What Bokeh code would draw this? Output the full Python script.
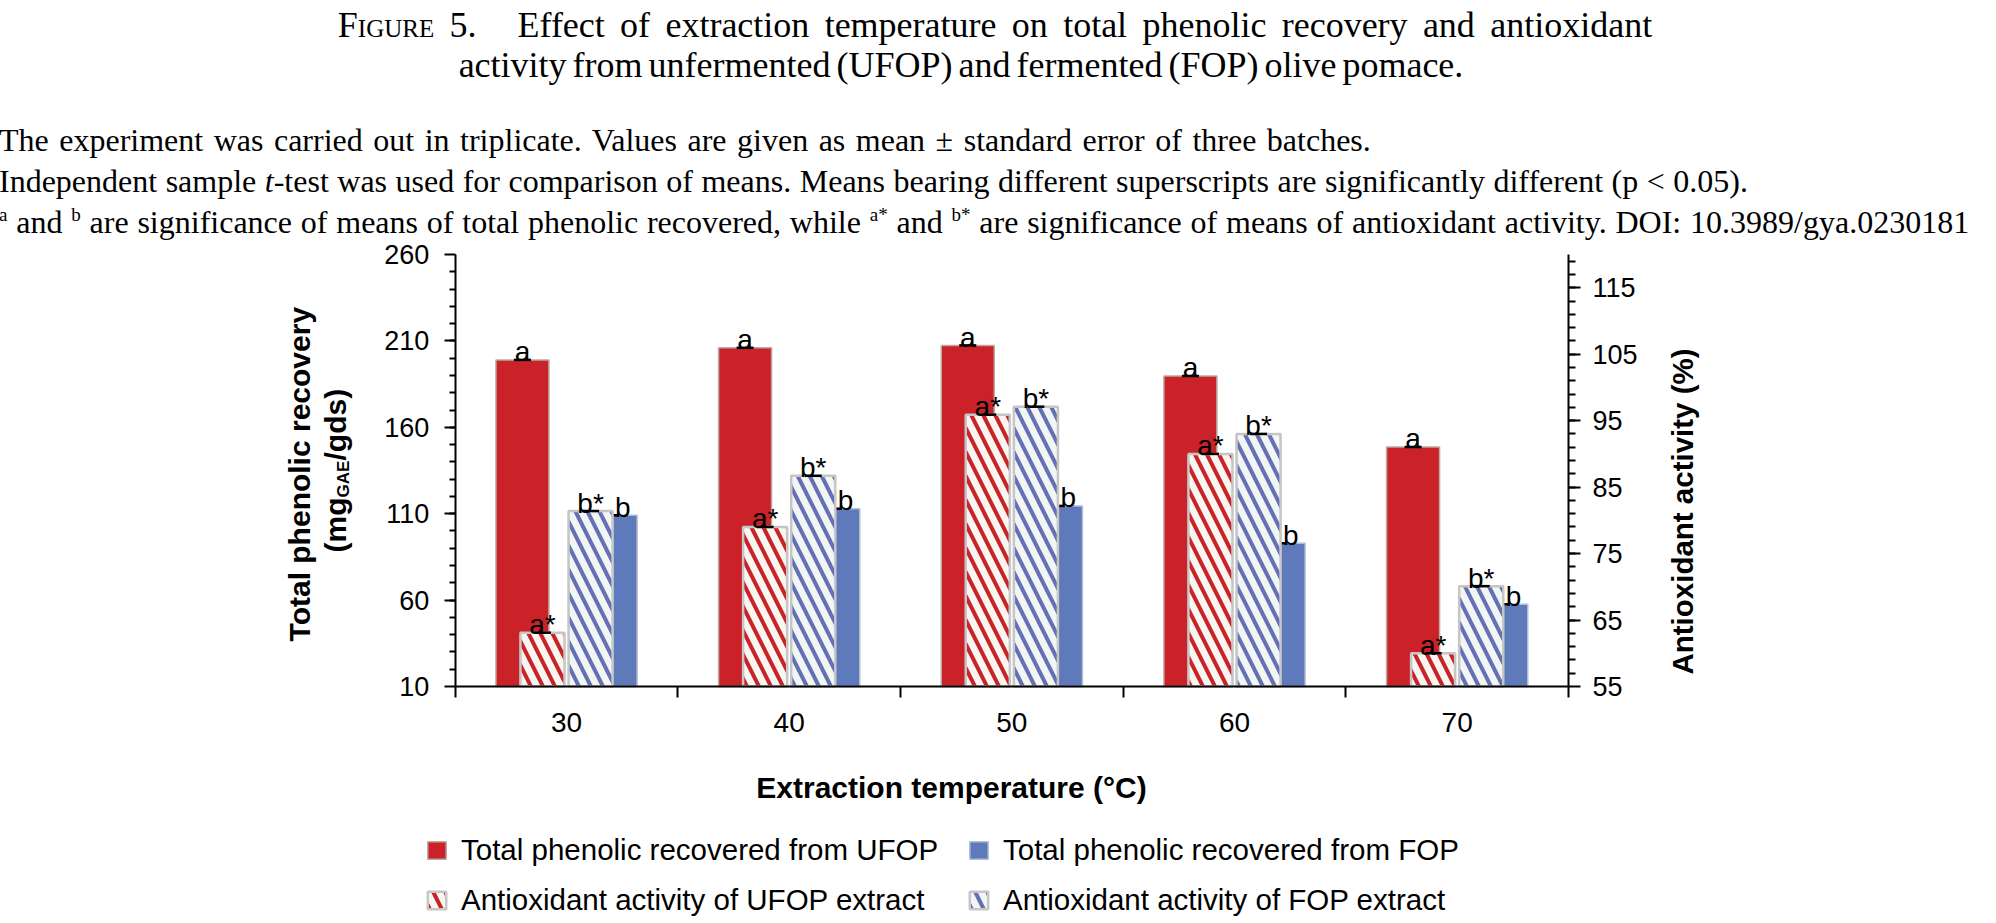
import numpy as np
from bokeh.plotting import figure
from bokeh.models import (Range1d, LinearAxis, FixedTicker, Label, Legend,
                          LegendItem, Div)
from bokeh.layouts import column
from bokeh.embed import file_html
from bokeh.resources import INLINE
from bokeh.core.properties import value

# ---------------- data ----------------
temps = ["30", "40", "50", "60", "70"]
tpc_ufop = [199.0, 206.0, 207.4, 189.7, 148.6]   # total phenolic, UFOP (left axis)
tpc_fop = [109.1, 112.9, 114.5, 92.9, 57.6]      # total phenolic, FOP (left axis)
aa_ufop = [63.1, 79.0, 95.9, 90.0, 60.0]         # antioxidant activity UFOP (%)
aa_fop = [81.4, 86.7, 97.1, 93.0, 70.1]          # antioxidant activity FOP (%)
sig_tpc_ufop = ["a", "a", "a", "a", "a"]
sig_tpc_fop = ["b", "b", "b", "b", "b"]
sig_aa_ufop = ["a*", "a*", "a*", "a*", "a*"]
sig_aa_fop = ["b*", "b*", "b*", "b*", "b*"]
left_major = [10, 60, 110, 160, 210, 260]
left_minor = list(range(20, 260, 10))
right_major = [55, 65, 75, 85, 95, 105, 115]
right_minor = list(range(57, 120, 2))

legend_labels = ["Total phenolic recovered from UFOP",
                 "Total phenolic recovered from FOP",
                 "Antioxidant activity of UFOP extract",
                 "Antioxidant activity of FOP extract"]

title1 = "Effect of extraction temperature on total phenolic recovery and antioxidant"
title2 = "activity from unfermented (UFOP) and fermented (FOP) olive pomace."
note1 = "The experiment was carried out in triplicate. Values are given as mean \u00b1 standard error of three batches."

RED = "#CB2229"
BLUE = "#5F7ABA"
HBLUE = "#6470B4"
SANS = "Liberation Sans"
SERIF = "'Liberation Serif','Times New Roman',serif"

# ---------------- header (HTML text) ----------------
sup = '<span style="font-size:19px;line-height:0;vertical-align:12px;">{}</span>'
note3 = (sup.format("a") + " and " + sup.format("b") +
         " are significance of means of total phenolic recovered, while " +
         sup.format("a*") + " and " + sup.format("b*") +
         " are significance of means of antioxidant activity. DOI: 10.3989/gya.0230181")
note2 = ("Independent sample <i>t</i>-test was used for comparison of means. "
         "Means bearing different superscripts are significantly different (p &lt; 0.05).")

HEAD_H = 228
html = f'''<div style="position:relative;width:1980px;height:{HEAD_H}px;overflow:visible;font-family:{SERIF};color:#000;white-space:nowrap;">
<div style="position:absolute;left:0px;top:2px;width:1980px;text-align:center;font-size:36px;line-height:36px;word-spacing:6.3px;"><span style="font-variant:small-caps;">Figure 5.</span><span style="display:inline-block;width:41px;"></span>{title1}</div>
<div style="position:absolute;left:0px;top:42px;width:1912px;text-align:center;font-size:36px;line-height:36px;word-spacing:-3px;">{title2}</div>
<div style="position:absolute;left:-6px;top:119px;font-size:32px;line-height:32px;word-spacing:2.5px;">{note1}</div>
<div style="position:absolute;left:-6px;top:160px;font-size:32px;line-height:32px;word-spacing:0.5px;">{note2}</div>
<div style="position:absolute;left:-6px;top:201px;font-size:32px;line-height:32px;word-spacing:0.8px;">{note3}</div>
</div>'''

header = Div(text=html, width=1980, height=HEAD_H, styles={"overflow": "visible"})

# ---------------- figure geometry (frame = whole canvas) ----------------
FIG_TOP = 8 + HEAD_H          # page y of canvas top
FW, FH = 1980, 915 - FIG_TOP
PX0, PX1 = 462.7 - 8, 1576.0 - 8          # canvas x of plot area edges
PY_TOP, PY_BOT = 252.0 - FIG_TOP, 684.0 - FIG_TOP   # canvas y of plot top / bottom

n = len(temps)
ux = (PX1 - PX0) / n
x0 = 0.5 - PX0 / ux
uy = (PY_BOT - PY_TOP) / (left_major[-1] - left_major[0])
ur = (PY_BOT - PY_TOP) / (120 - 55)

p = figure(width=FW, height=FH,
           x_range=Range1d(x0, x0 + FW / ux),
           y_range=Range1d(10 - (FH - PY_BOT) / uy, 260 + PY_TOP / uy),
           output_backend="svg", toolbar_location=None,
           min_border_left=0, min_border_right=0, min_border_top=0, min_border_bottom=0,
           outline_line_color=None, background_fill_alpha=0, border_fill_alpha=0)
p.title.visible = False
p.grid.visible = False
p.extra_y_ranges = {"aa": Range1d(55 - (FH - PY_BOT) / ur, 120 + PY_TOP / ur)}

xs = np.arange(1, n + 1, dtype=float)

# x axis: labels at category centres, ticks at boundaries
xa = p.xaxis[0]
xa.fixed_location = 10
xa.bounds = (0.5, n + 0.5)
xa.ticker = FixedTicker(ticks=list(xs), minor_ticks=list(np.arange(0.5, n + 1, 1.0)))
xa.major_label_overrides = {int(i): t for i, t in zip(xs, temps)}
xa.major_tick_out = 0
xa.major_tick_in = 0
xa.minor_tick_out = 11
xa.minor_tick_in = 0
xa.minor_tick_line_width = 2
xa.axis_line_width = 2
xa.major_label_text_font = SANS
xa.major_label_text_font_size = "28px"
xa.major_label_text_color = "black"
xa.major_label_standoff = 15

ya = p.yaxis[0]
ya.fixed_location = 0.5
ya.bounds = (10, 260)
ya.ticker = FixedTicker(ticks=left_major, minor_ticks=left_minor)
ya.major_tick_out = 11
ya.major_tick_in = 0
ya.minor_tick_out = 6
ya.minor_tick_in = 0
ya.major_tick_line_width = 2
ya.minor_tick_line_width = 2
ya.axis_line_width = 2
ya.major_label_text_font = SANS
ya.major_label_text_font_size = "27px"
ya.major_label_text_color = "black"
ya.major_label_standoff = 15

ra = LinearAxis(y_range_name="aa", fixed_location=n + 0.5, bounds=(55, 120),
                ticker=FixedTicker(ticks=right_major, minor_ticks=right_minor))
ra.major_tick_out = 12
ra.major_tick_in = 0
ra.minor_tick_out = 7
ra.minor_tick_in = 0
ra.major_tick_line_width = 2
ra.minor_tick_line_width = 2
ra.axis_line_width = 2
ra.major_label_text_font = SANS
ra.major_label_text_font_size = "27px"
ra.major_label_text_color = "black"
ra.major_label_standoff = 12
p.add_layout(ra, "right")

# ---------------- bars ----------------
W1, D1 = 0.238, 0.198   # primary bar width / offset
W2, D2 = 0.198, 0.108   # secondary bar width / offset

r_tu = p.vbar(x=xs - D1, top=tpc_ufop, bottom=10, width=W1, fill_color=RED,
              line_color="#BCA9A3", line_width=1.5)
p.scatter(x=xs - D1, y=tpc_ufop, marker="dash", size=17, line_width=2.5, line_color="black")
r_tf = p.vbar(x=xs + D1, top=tpc_fop, bottom=10, width=W1, fill_color=BLUE,
              line_color="#B4BCD8", line_width=1.5)
p.scatter(x=xs + D1, y=tpc_fop, marker="dash", size=17, line_width=2.5, line_color="black")

r_au = p.vbar(x=xs - D2, top=aa_ufop, bottom=55, width=W2, y_range_name="aa",
              fill_color="#F7F6F0", hatch_pattern="\\", hatch_color=RED,
              hatch_weight=4, hatch_scale=24, line_color="#C6C6C6", line_width=2.5)
p.scatter(x=xs - D2, y=aa_ufop, y_range_name="aa", marker="dash", size=17,
          line_width=2.5, line_color="black")
r_af = p.vbar(x=xs + D2, top=aa_fop, bottom=55, width=W2, y_range_name="aa",
              fill_color="#F1F5F4", hatch_pattern="\\", hatch_color=HBLUE,
              hatch_weight=4, hatch_scale=24, line_color="#C6C6C6", line_width=2.5)
p.scatter(x=xs + D2, y=aa_fop, y_range_name="aa", marker="dash", size=17,
          line_width=2.5, line_color="black")

# significance letters
txt = dict(text_font=value(SANS), text_font_size=value("28px"), text_color="black",
           text_align="center", text_baseline="alphabetic", y_offset=-8)
p.text(x=xs - D1, y=tpc_ufop, text=sig_tpc_ufop, **txt)
p.text(x=xs + D1 + 0.055, y=tpc_fop, text=sig_tpc_fop, **txt)
p.text(x=xs - D2, y=aa_ufop, text=sig_aa_ufop, y_range_name="aa", **txt)
p.text(x=xs + D2, y=aa_fop, text=sig_aa_fop, y_range_name="aa", **txt)

# ---------------- axis titles (screen coords from canvas bottom-left) ----------------
def sx(page_x):
    return page_x - 8

def sy(page_y):
    return 915 - page_y

lab = dict(x_units="screen", y_units="screen", text_font=SANS, text_font_style="bold",
           text_color="black")
p.add_layout(Label(x=sx(306.7), y=sy(471.7), text="Total phenolic recovery", angle=np.pi / 2,
                   text_font_size="30px", text_align="center", text_baseline="middle", **lab))
p.add_layout(Label(x=sx(343.0), y=sy(550), text="(mg", angle=np.pi / 2, text_font_size="30px",
                   text_align="left", text_baseline="middle", **lab))
p.add_layout(Label(x=sx(350.7), y=sy(495), text="GAE", angle=np.pi / 2, text_font_size="17px",
                   text_align="left", text_baseline="middle", **lab))
p.add_layout(Label(x=sx(343.0), y=sy(458), text="/gds)", angle=np.pi / 2, text_font_size="30px",
                   text_align="left", text_baseline="middle", **lab))
p.add_layout(Label(x=sx(1690), y=sy(509), text="Antioxidant activity (%)", angle=np.pi / 2,
                   text_font_size="29.5px", text_align="center", text_baseline="middle", **lab))
p.add_layout(Label(x=sx(959), y=sy(785), text="Extraction temperature (\u00b0C)",
                   text_font_size="30px", text_align="center", text_baseline="middle", **lab))

# ---------------- legend ----------------
leg_style = dict(orientation="horizontal", label_text_font=SANS, label_text_font_size="29.5px",
                 label_text_color="black", glyph_width=23, glyph_height=22, label_standoff=13,
                 label_width=488, spacing=18, padding=0, margin=0, border_line_color=None,
                 background_fill_alpha=0)
leg1 = Legend(items=[LegendItem(label=value(legend_labels[0]), renderers=[r_tu]),
                     LegendItem(label=value(legend_labels[1]), renderers=[r_tf])],
              location=(sx(433), sy(865)), **leg_style)
leg2 = Legend(items=[LegendItem(label=value(legend_labels[2]), renderers=[r_au]),
                     LegendItem(label=value(legend_labels[3]), renderers=[r_af])],
              location=(sx(433), sy(915)), **leg_style)
p.add_layout(leg1)
p.add_layout(leg2)

layout = column(header, p, spacing=0)

with open("out.html", "w", encoding="utf-8") as f:
    f.write(file_html(layout, INLINE))
